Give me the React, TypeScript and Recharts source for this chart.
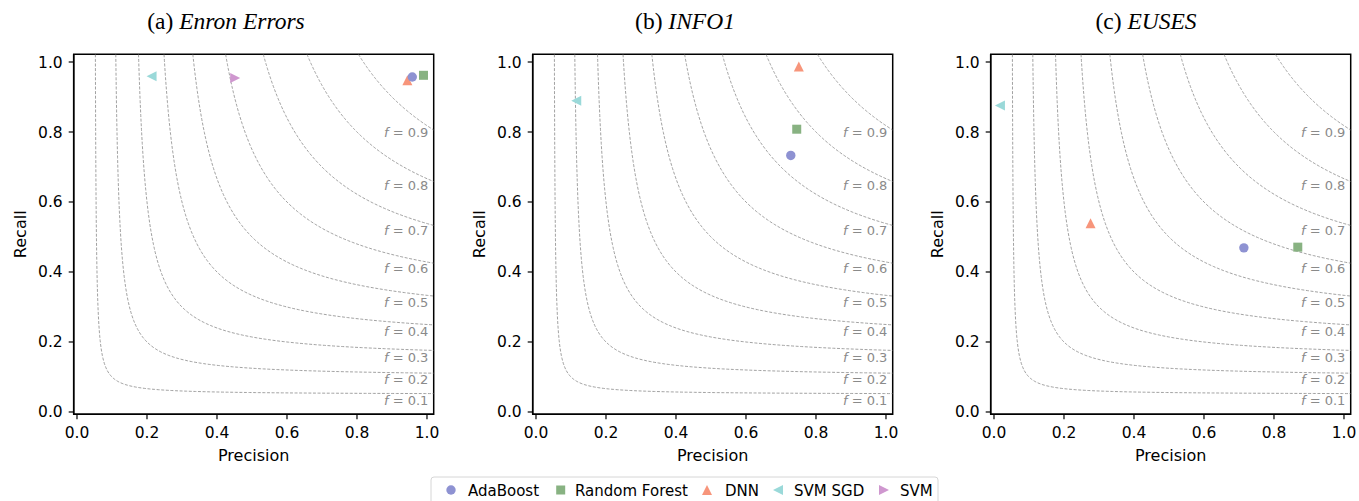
import React from 'react';
import { ComposedChart, Scatter, Line, XAxis, YAxis, ReferenceArea } from 'recharts';

// models shown in the legend, in legend order
const models = ['AdaBoost', 'Random Forest', 'DNN', 'SVM SGD', 'SVM'];
const modelColors = ['#8e92d2', '#88b282', '#f7957b', '#9ad9d9', '#cf97cf'];
const modelMarkers = ['circle', 'square', 'up', 'left', 'right'];

// (a) Enron Errors
const enronPrecision = [0.958, 0.99, 0.944, 0.213, 0.452];
const enronRecall = [0.957, 0.962, 0.948, 0.959, 0.954];
// (b) INFO1 (no SVM point)
const info1Precision = [0.728, 0.745, 0.751, 0.115, null];
const info1Recall = [0.733, 0.808, 0.987, 0.889, null];
// (c) EUSES (no SVM point)
const eusesPrecision = [0.714, 0.868, 0.276, 0.017, null];
const eusesRecall = [0.469, 0.471, 0.539, 0.876, null];

const panelTitles = ['(a) ', '(b) ', '(c) '];
const panelNames = ['Enron Errors', 'INFO1', 'EUSES'];

const isoLevels = [0.1, 0.2, 0.3, 0.4, 0.5, 0.6, 0.7, 0.8, 0.9];
const axisTicks = [0, 0.2, 0.4, 0.6, 0.8, 1.0];

const X_MIN = -0.0094, X_MAX = 1.0192;
const Y_MIN = -0.0066, Y_MAX = 1.022;

const W = 440, H = 501;
const margin = { top: 54.3, right: 6.3, bottom: 56.7, left: 13.7 };
const panelLeft = [0, 458.6, 917.3];
const titleCenter = [226, 685, 1146];

const font = '"DejaVu Sans", sans-serif';

// iso-F1 contour: recall = f*p / (2p - f)
function isoCurve(f: number) {
  const x0 = (f * Y_MAX) / (2 * Y_MAX - f);
  const n = 160;
  const pts = [];
  for (let i = 0; i <= n; i++) {
    const t = i / n;
    const x = x0 + (X_MAX - x0) * t * t;
    pts.push({ x, y: (f * x) / (2 * x - f) });
  }
  return pts;
}

const isoLabelData = isoLevels.map((f) => ({ x: 1.004, y: f / (2 - f) - 0.018, f }));

function Marker({ kind, cx, cy, color }: { kind: string; cx: number; cy: number; color: string }) {
  const r = 5;
  if (kind === 'circle') return <circle cx={cx} cy={cy} r={4.7} fill={color} />;
  if (kind === 'square') return <rect x={cx - 4.5} y={cy - 4.5} width={9} height={9} fill={color} />;
  let d = '';
  if (kind === 'up') d = `M${cx},${cy - r}L${cx - r},${cy + r}L${cx + r},${cy + r}Z`;
  if (kind === 'left') d = `M${cx - r},${cy}L${cx + r},${cy - r}L${cx + r},${cy + r}Z`;
  if (kind === 'right') d = `M${cx + r},${cy}L${cx - r},${cy - r}L${cx - r},${cy + r}Z`;
  return <path d={d} fill={color} />;
}

function IsoLabel(props: any) {
  const { cx, cy, payload } = props;
  return (
    <text x={cx} y={cy} textAnchor="end" dominantBaseline="central" fontFamily={font} fontSize={13} fill="#8a8a8a">
      <tspan fontStyle="italic">f</tspan>
      <tspan> = {payload.f.toFixed(1)}</tspan>
    </text>
  );
}

// draw order so the circle sits over the triangle as in the figure
const drawOrder = [2, 3, 4, 0, 1];

function Panel({ idx, precision, recall }: { idx: number; precision: (number | null)[]; recall: (number | null)[] }) {
  return (
    <div style={{ position: 'absolute', left: panelLeft[idx], top: 0 }}>
      <ComposedChart width={W} height={H} margin={margin}>
        <XAxis
          type="number"
          dataKey="x"
          domain={[X_MIN, X_MAX]}
          allowDataOverflow
          ticks={axisTicks}
          tickFormatter={(v: number) => v.toFixed(1)}
          tick={{ fill: '#000', fontSize: 15.5, fontFamily: font }}
          tickSize={5}
          tickMargin={8}
          height={30}
          axisLine={{ stroke: '#000', strokeWidth: 1.5 }}
          tickLine={{ stroke: '#000', strokeWidth: 1.2 }}
          label={{ value: 'Precision', position: 'bottom', offset: 5, fill: '#000', fontSize: 16, fontFamily: font }}
        />
        <YAxis
          type="number"
          dataKey="y"
          domain={[Y_MIN, Y_MAX]}
          allowDataOverflow
          ticks={axisTicks}
          tickFormatter={(v: number) => v.toFixed(1)}
          tick={{ fill: '#000', fontSize: 15.5, fontFamily: font }}
          tickSize={5}
          tickMargin={6}
          width={60}
          axisLine={{ stroke: '#000', strokeWidth: 1.5 }}
          tickLine={{ stroke: '#000', strokeWidth: 1.2 }}
          label={{
            value: 'Recall',
            angle: -90,
            position: 'insideLeft',
            offset: 7,
            fill: '#000',
            fontSize: 16,
            fontFamily: font,
            style: { textAnchor: 'middle' },
          }}
        />
        {isoLevels.map((f) => (
          <Line
            key={'iso' + f}
            data={isoCurve(f)}
            dataKey="y"
            type="linear"
            stroke="#8a8a8a"
            strokeWidth={0.8}
            strokeDasharray="3 1.6"
            dot={false}
            activeDot={false}
            isAnimationActive={false}
          />
        ))}
        <Scatter data={isoLabelData} dataKey="y" shape={<IsoLabel />} isAnimationActive={false} />
        {drawOrder.map((m) =>
          precision[m] == null ? null : (
            <Scatter
              key={models[m]}
              name={models[m]}
              data={[{ x: precision[m], y: recall[m] }]}
              dataKey="y"
              isAnimationActive={false}
              shape={(p: any) => <Marker kind={modelMarkers[m]} cx={p.cx} cy={p.cy} color={modelColors[m]} />}
            />
          )
        )}
        <ReferenceArea x1={X_MIN} x2={X_MAX} y1={Y_MIN} y2={Y_MAX} fill="none" fillOpacity={0} stroke="#000" strokeWidth={1.5} />
      </ComposedChart>
    </div>
  );
}

const legendMarkerX = [451, 560.7, 707, 778, 884];
const legendTextX = [468, 575, 725, 794, 900];

export default function App() {
  return (
    <div style={{ position: 'absolute', left: 0, top: 0, width: 1359, height: 501, overflow: 'hidden', background: '#fff' }}>
      <Panel idx={0} precision={enronPrecision} recall={enronRecall} />
      <Panel idx={1} precision={info1Precision} recall={info1Recall} />
      <Panel idx={2} precision={eusesPrecision} recall={eusesRecall} />
      <svg width={1359} height={501} style={{ position: 'absolute', left: 0, top: 0, pointerEvents: 'none' }}>
        {panelTitles.map((t, i) => (
          <text key={t} x={titleCenter[i]} y={28.5} textAnchor="middle" fontFamily='"Liberation Serif", serif' fontSize={23.5} fill="#000">
            {t}
            <tspan fontStyle="italic">{panelNames[i]}</tspan>
          </text>
        ))}
        <rect x={431} y={477} width={507} height={34} rx={3} fill="#fff" stroke="#d6d6d6" strokeWidth={1} />
        {models.map((m, i) => (
          <g key={m}>
            <Marker kind={modelMarkers[i]} cx={legendMarkerX[i]} cy={490} color={modelColors[i]} />
            <text x={legendTextX[i]} y={495.5} fontFamily={font} fontSize={15} fill="#000">
              {m}
            </text>
          </g>
        ))}
      </svg>
    </div>
  );
}
